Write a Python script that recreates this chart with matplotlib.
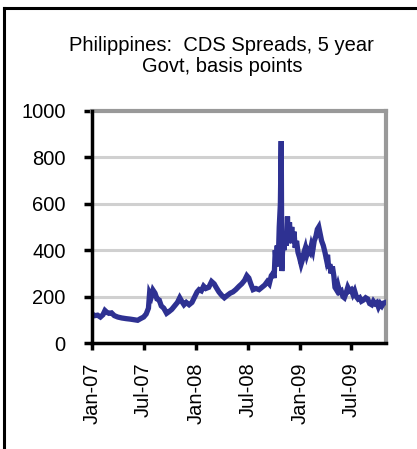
import pandas as pd
import matplotlib
matplotlib.use("Agg")
import matplotlib.pyplot as plt
import matplotlib.dates as mdates
from matplotlib.lines import Line2D

plt.rcParams["font.family"] = ["Liberation Sans", "DejaVu Sans"]

# CDS spread, 5 year govt (basis points)
dates = [
    "2007-01-01", "2007-01-10", "2007-01-20", "2007-01-30", "2007-02-08", "2007-02-15",
    "2007-02-22", "2007-03-01", "2007-03-10", "2007-03-20", "2007-04-01", "2007-04-15",
    "2007-05-01", "2007-05-15", "2007-06-01", "2007-06-10", "2007-06-20", "2007-07-01",
    "2007-07-10", "2007-07-18", "2007-07-22", "2007-07-28", "2007-08-03", "2007-08-10",
    "2007-08-17", "2007-08-25", "2007-09-01", "2007-09-10", "2007-09-20", "2007-09-28",
    "2007-10-08", "2007-10-18", "2007-10-28", "2007-11-05", "2007-11-12", "2007-11-20",
    "2007-11-28", "2007-12-08", "2007-12-18", "2007-12-28", "2008-01-05", "2008-01-12",
    "2008-01-20", "2008-01-28", "2008-02-05", "2008-02-15", "2008-02-25", "2008-03-05",
    "2008-03-12", "2008-03-22", "2008-04-01", "2008-04-10", "2008-04-20", "2008-05-01",
    "2008-05-10", "2008-05-20", "2008-06-01", "2008-06-10", "2008-06-20", "2008-06-28",
    "2008-07-05", "2008-07-12", "2008-07-20", "2008-07-30", "2008-08-10", "2008-08-20",
    "2008-08-30", "2008-09-08", "2008-09-15", "2008-09-22", "2008-09-28", "2008-10-02",
    "2008-10-06", "2008-10-09", "2008-10-13", "2008-10-16", "2008-10-20", "2008-10-24",
    "2008-10-27", "2008-10-29", "2008-11-02", "2008-11-06", "2008-11-10", "2008-11-14",
    "2008-11-18", "2008-11-21", "2008-11-25", "2008-11-29", "2008-12-03", "2008-12-07",
    "2008-12-11", "2008-12-15", "2008-12-20", "2008-12-25", "2008-12-30", "2009-01-05",
    "2009-01-10", "2009-01-15", "2009-01-20", "2009-01-25", "2009-01-30", "2009-02-05",
    "2009-02-10", "2009-02-15", "2009-02-20", "2009-02-26", "2009-03-03", "2009-03-08",
    "2009-03-13", "2009-03-18", "2009-03-24", "2009-03-30", "2009-04-04", "2009-04-08",
    "2009-04-12", "2009-04-16", "2009-04-20", "2009-04-25", "2009-04-30", "2009-05-04",
    "2009-05-09", "2009-05-14", "2009-05-20", "2009-05-26", "2009-06-01", "2009-06-06",
    "2009-06-12", "2009-06-18", "2009-06-24", "2009-06-30", "2009-07-06", "2009-07-12",
    "2009-07-18", "2009-07-24", "2009-07-30", "2009-08-05", "2009-08-12", "2009-08-20",
    "2009-08-27", "2009-09-03", "2009-09-10", "2009-09-16", "2009-09-22", "2009-09-28",
    "2009-10-04", "2009-10-10", "2009-10-16", "2009-10-22", "2009-10-29",
]
spreads = [
    125, 118, 120, 112, 122, 140,
    132, 128, 130, 118, 112, 108,
    105, 103, 100, 98, 105, 112,
    125, 150, 215, 200, 228, 215,
    190, 185, 160, 150, 128, 135,
    145, 160, 175, 195, 180, 165,
    175, 165, 175, 200, 220, 230,
    225, 245, 235, 240, 265, 255,
    240, 220, 205, 195, 205, 215,
    220, 230, 245, 255, 270, 290,
    280, 255, 230, 235, 230, 240,
    250, 265, 255, 290, 300, 280,
    400, 350, 420, 330, 500, 600,
    870, 310, 440, 400, 480, 420,
    545, 430, 520, 440, 500, 430,
    480, 410, 440, 390, 370, 340,
    360, 390, 410, 380, 400, 390,
    420, 400, 440, 460, 490, 500,
    470, 440, 420, 390, 360, 380,
    320, 340, 300, 330, 290, 240,
    230, 250, 220, 225, 200, 195,
    215, 240, 225, 230, 210, 225,
    200, 190, 195, 180, 185, 195,
    190, 170, 165, 180, 170, 175,
    155, 170, 160, 172, 175,
]
x_ticks = ["2007-01-01", "2007-07-01", "2008-01-01", "2008-07-01", "2009-01-01", "2009-07-01"]
y_ticks = [0, 200, 400, 600, 800, 1000]
title = "Philippines:  CDS Spreads, 5 year\nGovt, basis points"

df = pd.DataFrame({"date": pd.to_datetime(dates), "spread": spreads})

fig = plt.figure(figsize=(4.17, 4.49), dpi=100)
ax = fig.add_axes([0.221, 0.236, 0.705, 0.517])

for y in y_ticks[1:-1]:
    ax.axhline(y, color="#d0d0d0", lw=2.2, zorder=1)

ax.plot(df["date"], df["spread"], color="#2e3192", lw=3.8, zorder=3, solid_joinstyle="miter")

ax.set_ylim(0, 1000)
ax.set_xlim(pd.Timestamp("2007-01-01"), pd.Timestamp("2009-10-31"))
ax.set_yticks(y_ticks)
ax.set_xticks(pd.to_datetime(x_ticks))
ax.xaxis.set_major_formatter(mdates.DateFormatter("%b-%y"))

for s in ["left", "bottom"]:
    ax.spines[s].set_color("black")
    ax.spines[s].set_linewidth(2.5)
    ax.spines[s].set_zorder(4)
for s in ["top", "right"]:
    ax.spines[s].set_color("#999999")
    ax.spines[s].set_linewidth(3.0)

ax.tick_params(axis="y", length=6, width=2.5, pad=13, labelsize=14.5)
ax.tick_params(axis="x", length=5, width=2.5, pad=9, labelsize=14.5, rotation=90)

fig.text(0.532, 0.875, title, ha="center", va="center", fontsize=14.5,
         multialignment="center", linespacing=1.15)

# outer frame (left and top only)
fig.add_artist(Line2D([0.0084, 0.0084], [0, 0.983], color="black", lw=2.2))
fig.add_artist(Line2D([0.0084, 1.0], [0.983, 0.983], color="black", lw=2.2))

fig.savefig("out.png", dpi=100)
